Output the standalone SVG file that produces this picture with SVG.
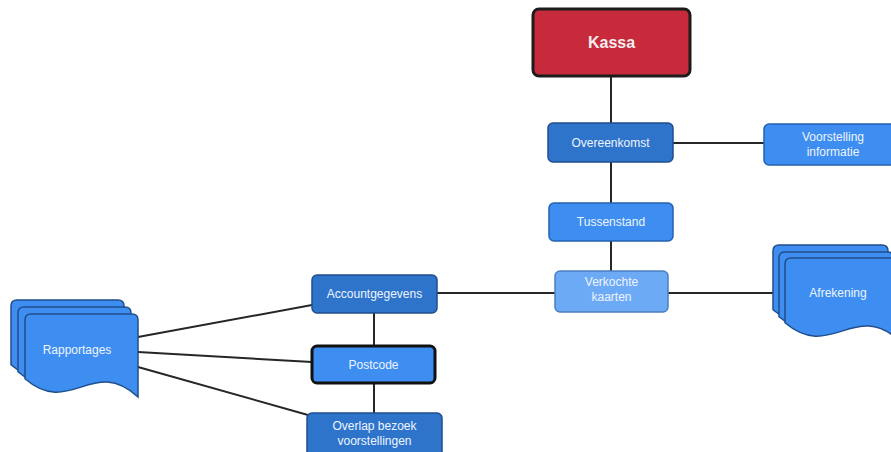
<svg xmlns="http://www.w3.org/2000/svg" width="891" height="452" viewBox="0 0 891 452">
  <style>
    .link { stroke: #262626; stroke-width: 2; fill: none; }
    .dark { fill: #2f74cb; stroke: #1f4e8c; stroke-width: 1.5; }
    .mid { fill: #3d8ef0; stroke: #2362b0; stroke-width: 1.5; }
    .light { fill: #6daaf6; stroke: #4a7fc0; stroke-width: 1.5; }
    .doc { fill: #3d8ef0; stroke: #1f4e8c; stroke-width: 1.5; }
    .label { font-family: "Liberation Sans", Arial, sans-serif; font-size: 12px; fill: #eef4ff; text-anchor: middle; dominant-baseline: central; }
  </style>
  <defs>
    <!-- document page: rounded top, wavy bottom; 113 x 83 -->
    <path id="page" d="M0,6 Q0,0 6,0 H107 Q113,0 113,6 V83 C67.8,41.5 45.2,103.75 0,64.7 Z"/>
    <path id="pageWide" d="M0,6 Q0,0 6,0 H109 Q115,0 115,6 V83 C69,41.5 46,103.75 0,64.7 Z"/>
  </defs>

  <g id="connectors">
    <line class="link" x1="611" y1="76" x2="611" y2="123"/>
    <line class="link" x1="673" y1="143" x2="764" y2="143"/>
    <line class="link" x1="611" y1="162" x2="611" y2="203"/>
    <line class="link" x1="611" y1="241" x2="611" y2="271"/>
    <line class="link" x1="437" y1="293" x2="555" y2="293"/>
    <line class="link" x1="668" y1="293" x2="775" y2="293"/>
    <line class="link" x1="374" y1="313" x2="374" y2="346"/>
    <line class="link" x1="374" y1="383" x2="374" y2="413"/>
    <line class="link" x1="138" y1="337" x2="312" y2="305"/>
    <line class="link" x1="138" y1="352" x2="312" y2="362"/>
    <line class="link" x1="138" y1="367" x2="308" y2="415"/>
  </g>

  <g id="kassa">
    <rect x="533" y="9" width="157" height="67" rx="6" fill="#c72a3b" stroke="#1c1c1c" stroke-width="3"/>
    <text x="611.5" y="42" class="label" style="font-size:16px;font-weight:bold;fill:#f6eef0">Kassa</text>
  </g>

  <g id="overeenkomst">
    <rect class="dark" x="548" y="123" width="125" height="39" rx="5"/>
    <text x="610.5" y="142.5" class="label">Overeenkomst</text>
  </g>

  <g id="voorstelling-informatie">
    <rect class="mid" x="764" y="124" width="134" height="41" rx="5"/>
    <text x="833" y="137" class="label">Voorstelling</text>
    <text x="833" y="152" class="label">informatie</text>
  </g>

  <g id="tussenstand">
    <rect class="mid" x="549" y="203" width="124" height="38" rx="5"/>
    <text x="611" y="222" class="label">Tussenstand</text>
  </g>

  <g id="verkochte-kaarten">
    <rect class="light" x="555" y="271" width="113" height="41" rx="5"/>
    <text x="611.5" y="282" class="label">Verkochte</text>
    <text x="611.5" y="297" class="label">kaarten</text>
  </g>

  <g id="afrekening">
    <use href="#pageWide" class="doc" x="773" y="245"/>
    <use href="#pageWide" class="doc" x="779" y="252"/>
    <use href="#pageWide" class="doc" x="785" y="258"/>
    <text x="838" y="293" class="label">Afrekening</text>
  </g>

  <g id="accountgegevens">
    <rect class="dark" x="312" y="275" width="125" height="38" rx="5"/>
    <text x="374.5" y="294" class="label">Accountgegevens</text>
  </g>

  <g id="postcode">
    <rect x="312" y="346" width="123" height="37" rx="5" fill="#3d8ef0" stroke="#111111" stroke-width="3"/>
    <text x="373.5" y="364.5" class="label">Postcode</text>
  </g>

  <g id="overlap-bezoek-voorstellingen">
    <rect class="dark" x="307" y="413" width="135" height="46" rx="5"/>
    <text x="374.5" y="426" class="label">Overlap bezoek</text>
    <text x="374.5" y="441" class="label">voorstellingen</text>
  </g>

  <g id="rapportages">
    <use href="#page" class="doc" x="11" y="300"/>
    <use href="#page" class="doc" x="18" y="307"/>
    <use href="#page" class="doc" x="25" y="314"/>
    <text x="77" y="350" class="label">Rapportages</text>
  </g>
</svg>
